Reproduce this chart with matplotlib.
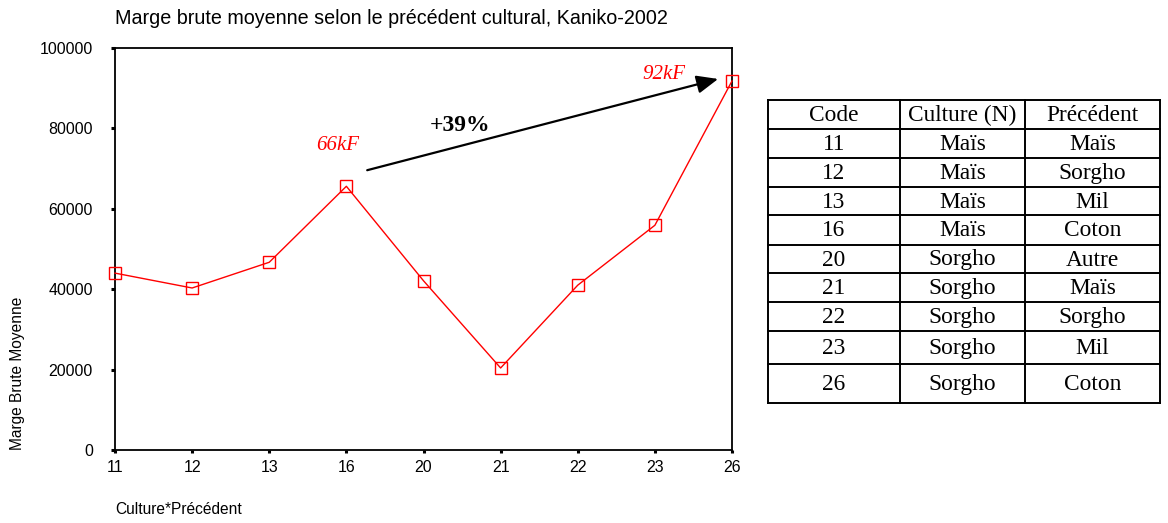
import matplotlib
matplotlib.use("Agg")
import matplotlib.pyplot as plt

# ---- data ----
codes = ["11", "12", "13", "16", "20", "21", "22", "23", "26"]
marge = [44000, 40300, 46700, 65600, 42100, 20400, 41000, 55900, 91800]
yticks = [0, 20000, 40000, 60000, 80000, 100000]

tab_header = ["Code", "Culture (N)", "Précédent"]
tab_code = ["11", "12", "13", "16", "20", "21", "22", "23", "26"]
tab_culture = ["Maïs", "Maïs", "Maïs", "Maïs", "Sorgho", "Sorgho", "Sorgho", "Sorgho", "Sorgho"]
tab_prec = ["Maïs", "Sorgho", "Mil", "Coton", "Autre", "Maïs", "Sorgho", "Mil", "Coton"]

W, H = 1168, 523
fig = plt.figure(figsize=(W / 100, H / 100), dpi=100)
sans = ["Liberation Sans", "DejaVu Sans"]
serif = ["Liberation Serif", "DejaVu Serif"]

def fx(px):
    return px / W

def fy(py):
    return 1 - py / H

# ---- main chart ----
ax = fig.add_axes([fx(115), fy(450), fx(732) - fx(115), fy(48) - fy(450)])
x = list(range(len(codes)))
ax.plot(x, marge, color="red", lw=1.0, marker="s", ms=8, mfc="none", mec="red", mew=1.0,
        clip_on=False, zorder=3)
ax.set_xlim(0, len(codes) - 1)
ax.set_ylim(0, 100000)
ax.set_xticks(x)
ax.set_xticklabels(codes, family=sans, fontsize=11.5)
ax.set_yticks(yticks)
ax.set_yticklabels([str(v) for v in yticks], family=sans, fontsize=11.5)
ax.tick_params(axis="y", direction="out", length=3, width=2.2, pad=13)
ax.tick_params(axis="x", direction="out", length=2.5, width=2.2, pad=5)
for s in ax.spines.values():
    s.set_linewidth(1.3)
    s.set_color("black")

# annotations
ax.annotate("", xy=(7.82, 92300), xytext=(3.27, 69600),
            arrowprops=dict(arrowstyle="-|>,head_length=1.3,head_width=0.55", color="black", lw=1.6,
                            shrinkA=0, shrinkB=0), annotation_clip=False)
ax.text(4.47, 80700, "+39%", family=serif, fontweight="bold", fontsize=17, ha="center", va="center")
ax.text(2.89, 75700, "66kF", family=serif, style="italic", color="red", fontsize=15,
        ha="center", va="center")
ax.text(7.12, 93400, "92kF", family=serif, style="italic", color="red", fontsize=15,
        ha="center", va="center")

# titles
fig.text(fx(115), fy(18), "Marge brute moyenne selon le précédent cultural, Kaniko-2002",
         family=sans, fontsize=14.2, ha="left", va="center")
fig.text(fx(18), fy(450), "Marge Brute Moyenne", family=sans, fontsize=11.2,
         rotation=90, ha="center", va="bottom")
fig.text(fx(115), fy(510), "Culture*Précédent", family=sans, fontsize=11.2, ha="left", va="center")

# ---- table ----
tx0, tx1 = 768, 1160
col_edges = [768, 900, 1025, 1160]
row_edges = [100, 129, 158, 187, 215, 245, 273, 302, 331, 364, 403]
tax = fig.add_axes([0, 0, 1, 1])
tax.set_xlim(0, W)
tax.set_ylim(H, 0)
tax.axis("off")
tax.patch.set_alpha(0)
for cx in col_edges:
    tax.plot([cx, cx], [row_edges[0], row_edges[-1]], color="black", lw=1.4)
for ry in row_edges:
    tax.plot([tx0, tx1], [ry, ry], color="black", lw=1.4)

rows = [tab_header] + [[c, cu, p] for c, cu, p in zip(tab_code, tab_culture, tab_prec)]
for r, row in enumerate(rows):
    yc = (row_edges[r] + row_edges[r + 1]) / 2 + 1
    for c, val in enumerate(row):
        xc = (col_edges[c] + col_edges[c + 1]) / 2
        tax.text(xc, yc, val, family=serif, fontsize=16.8, ha="center", va="center")

fig.savefig("out.png", dpi=100)
